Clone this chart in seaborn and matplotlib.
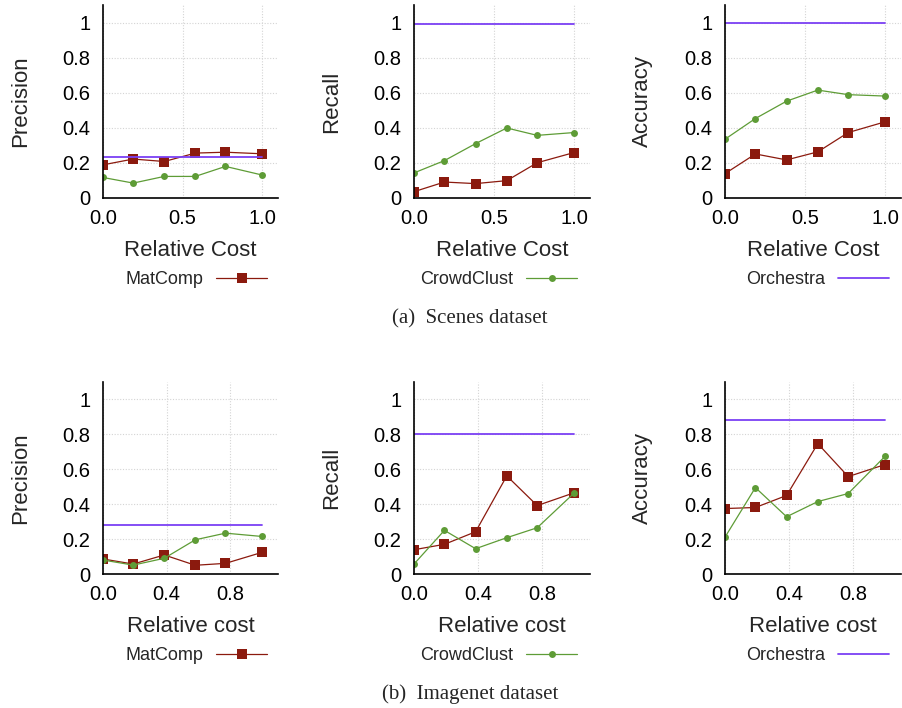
import matplotlib
matplotlib.use("Agg")
import matplotlib.pyplot as plt
import seaborn as sns

# Relative cost at which each method was evaluated
cost = [0.0, 0.19, 0.385, 0.58, 0.77, 1.0]

# Scenes dataset
scenes_precision_matcomp = [0.189, 0.222, 0.208, 0.256, 0.261, 0.252]
scenes_precision_crowdclust = [0.117, 0.085, 0.123, 0.123, 0.180, 0.131]
scenes_precision_orchestra = 0.231

scenes_recall_matcomp = [0.036, 0.091, 0.082, 0.099, 0.201, 0.259]
scenes_recall_crowdclust = [0.143, 0.213, 0.310, 0.399, 0.357, 0.373]
scenes_recall_orchestra = 0.990

scenes_accuracy_matcomp = [0.139, 0.251, 0.217, 0.263, 0.373, 0.434]
scenes_accuracy_crowdclust = [0.335, 0.453, 0.552, 0.615, 0.589, 0.581]
scenes_accuracy_orchestra = 0.996

# Imagenet dataset
imagenet_precision_matcomp = [0.086, 0.057, 0.109, 0.050, 0.061, 0.124]
imagenet_precision_crowdclust = [0.080, 0.051, 0.090, 0.196, 0.234, 0.215]
imagenet_precision_orchestra = 0.282

imagenet_recall_matcomp = [0.139, 0.170, 0.242, 0.562, 0.392, 0.465]
imagenet_recall_crowdclust = [0.057, 0.250, 0.145, 0.208, 0.265, 0.463]
imagenet_recall_orchestra = 0.804

imagenet_accuracy_matcomp = [0.375, 0.381, 0.450, 0.747, 0.558, 0.627]
imagenet_accuracy_crowdclust = [0.211, 0.495, 0.328, 0.415, 0.461, 0.674]
imagenet_accuracy_orchestra = 0.884

metrics = ["Precision", "Recall", "Accuracy"]
methods = ["MatComp", "CrowdClust", "Orchestra"]
y_ticks = [0, 0.2, 0.4, 0.6, 0.8, 1.0]
y_tick_labels = ["0", "0.2", "0.4", "0.6", "0.8", "1"]
scenes_x_ticks = [0.0, 0.5, 1.0]
scenes_x_tick_labels = ["0.0", "0.5", "1.0"]
imagenet_x_ticks = [0.0, 0.4, 0.8]
imagenet_x_tick_labels = ["0.0", "0.4", "0.8"]

colors = {"MatComp": "#8b1a0e", "CrowdClust": "#5e9c36", "Orchestra": "#7b40f4"}

sns.set_style("white")
plt.rcParams["font.family"] = ["Liberation Sans", "DejaVu Sans"]

W, H = 903, 708
fig = plt.figure(figsize=(W / 100, H / 100), dpi=100)

col_px = [(103, 278), (414, 590), (725, 901)]
row_px = [(5, 198), (382, 574)]

rows = [
    dict(
        series=[
            (scenes_precision_matcomp, scenes_precision_crowdclust, scenes_precision_orchestra),
            (scenes_recall_matcomp, scenes_recall_crowdclust, scenes_recall_orchestra),
            (scenes_accuracy_matcomp, scenes_accuracy_crowdclust, scenes_accuracy_orchestra),
        ],
        xticks=scenes_x_ticks, xticklabels=scenes_x_tick_labels,
        xlabel="Relative Cost", legend_y=280,
        caption="(a)  Scenes dataset", caption_y=319,
    ),
    dict(
        series=[
            (imagenet_precision_matcomp, imagenet_precision_crowdclust, imagenet_precision_orchestra),
            (imagenet_recall_matcomp, imagenet_recall_crowdclust, imagenet_recall_orchestra),
            (imagenet_accuracy_matcomp, imagenet_accuracy_crowdclust, imagenet_accuracy_orchestra),
        ],
        xticks=imagenet_x_ticks, xticklabels=imagenet_x_tick_labels,
        xlabel="Relative cost", legend_y=656,
        caption="(b)  Imagenet dataset", caption_y=694,
    ),
]

legend_right_px = [267, 577, 889]

for r, row in enumerate(rows):
    top, bottom = row_px[r]
    for c in range(3):
        left, right = col_px[c]
        ax = fig.add_axes([left / W, 1 - bottom / H, (right - left) / W, (bottom - top) / H])
        matcomp, crowdclust, orchestra = row["series"][c]

        sns.lineplot(x=cost, y=matcomp, ax=ax, color=colors["MatComp"], marker="s",
                     markersize=6.5, markeredgewidth=0, linewidth=0.9, sort=False,
                     errorbar=None, label="MatComp")
        sns.lineplot(x=cost, y=crowdclust, ax=ax, color=colors["CrowdClust"], marker="o",
                     markersize=5, markeredgewidth=0, linewidth=0.9, sort=False,
                     errorbar=None, label="CrowdClust")
        sns.lineplot(x=[cost[0], cost[-1]], y=[orchestra, orchestra], ax=ax,
                     color=colors["Orchestra"], linewidth=1.3, sort=False,
                     errorbar=None, label="Orchestra")

        ax.set_xlim(0, 1.1)
        ax.set_ylim(0, 1.1)
        ax.set_xticks(row["xticks"])
        ax.set_xticklabels(row["xticklabels"])
        ax.set_yticks(y_ticks)
        ax.set_yticklabels(y_tick_labels)
        ax.tick_params(axis="both", length=0, labelsize=14.5, colors="black")
        ax.tick_params(axis="x", pad=8)
        ax.tick_params(axis="y", pad=9)
        ax.grid(True, color="#d4d4d4", linestyle=(0, (1, 1.5)), linewidth=0.8)
        for side in ("top", "right"):
            ax.spines[side].set_visible(False)
        for side in ("left", "bottom"):
            ax.spines[side].set_color("black")
            ax.spines[side].set_linewidth(1.2)

        width_px = right - left
        height_px = bottom - top
        ax.set_ylabel(metrics[c], fontsize=16)
        ax.yaxis.set_label_coords(-72 / width_px, 0.5)
        ax.set_xlabel(row["xlabel"], fontsize=16)
        ax.xaxis.set_label_coords(0.5, -42 / height_px)

        handles, labels = ax.get_legend_handles_labels()
        idx = labels.index(methods[c])
        ax.legend([handles[idx]], [labels[idx]], loc="center right",
                  bbox_to_anchor=(legend_right_px[c] / W, 1 - row["legend_y"] / H),
                  bbox_transform=fig.transFigure, frameon=False, markerfirst=False,
                  borderpad=0, borderaxespad=0, handlelength=2.8, handletextpad=0.72,
                  fontsize=13)

    fig.text(470 / W, 1 - row["caption_y"] / H, row["caption"], ha="center", va="center",
             fontsize=15, family=["Liberation Serif", "DejaVu Serif"])

fig.savefig("out.png", dpi=100)
